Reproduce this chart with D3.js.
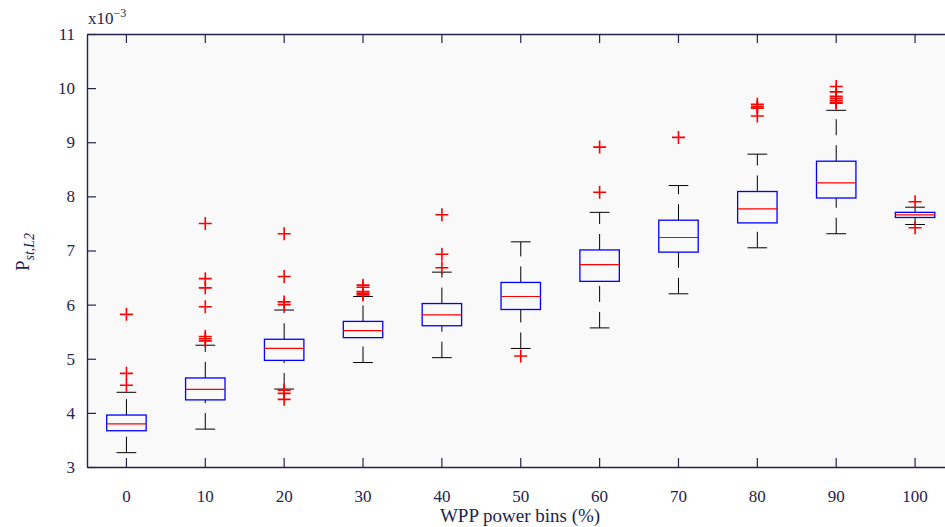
<!DOCTYPE html>
<html>
<head>
<meta charset="utf-8">
<script src="https://cdn.jsdelivr.net/npm/d3@7"></script>
<style>
  html, body { margin: 0; padding: 0; background: #ffffff; }
  svg { display: block; font-family: "Liberation Serif", "DejaVu Serif", serif; }
</style>
</head>
<body>
<svg id="chart" width="945" height="527"></svg>
<script>
// WPP power bins (%)
const bins = [0, 10, 20, 30, 40, 50, 60, 70, 80, 90, 100];

// Box statistics of P_st,L2 per bin (units of 1e-3)
const whiskerLow  = [3.265, 3.70, 4.44, 4.93, 5.02, 5.19, 5.57, 6.20, 7.05, 7.31, 7.48];
const quartile1   = [3.67, 4.24, 4.97, 5.39, 5.61, 5.91, 6.43, 6.97, 7.51, 7.97, 7.61];
const medians     = [3.795, 4.435, 5.19, 5.52, 5.81, 6.15, 6.74, 7.24, 7.77, 8.25, 7.66];
const quartile3   = [3.96, 4.645, 5.36, 5.69, 6.02, 6.41, 7.01, 7.56, 8.09, 8.65, 7.705];
const whiskerHigh = [4.38, 5.25, 5.90, 6.15, 6.60, 7.16, 7.705, 8.20, 8.78, 9.59, 7.80];

// Outlying samples per bin
const outliers = [
  [5.82, 4.73, 4.51],
  [7.50, 6.48, 6.31, 5.96, 5.41, 5.37, 5.33],
  [7.31, 6.52, 6.05, 6.00, 4.42, 4.36, 4.25],
  [6.36, 6.32, 6.24, 6.21, 6.18],
  [7.66, 6.93, 6.68],
  [5.05],
  [8.91, 8.075],
  [9.09],
  [9.70, 9.66, 9.63, 9.485],
  [10.03, 9.93, 9.85, 9.81, 9.77, 9.74, 9.72],
  [7.90, 7.42]
];

const yTicks = [3, 4, 5, 6, 7, 8, 9, 10, 11];

const axisColor = "#23234f";
const svg = d3.select("#chart");

const plot = { left: 87, top: 34, right: 954.5, bottom: 467 };

const x = d3.scaleBand()
  .domain(bins)
  .range([plot.left, plot.right])
  .paddingInner(0)
  .paddingOuter(0);

const y = d3.scaleLinear()
  .domain([3, 11])
  .range([plot.bottom, plot.top]);

const bw = x.bandwidth();
const cx = d => x(d) + bw / 2;

// plot background
svg.append("rect")
  .attr("x", plot.left).attr("y", plot.top)
  .attr("width", plot.right - plot.left)
  .attr("height", plot.bottom - plot.top)
  .attr("fill", "#f9f9f9");

const rows = bins.map((b, i) => ({
  bin: b,
  lo: whiskerLow[i], q1: quartile1[i], med: medians[i],
  q3: quartile3[i], hi: whiskerHigh[i], out: outliers[i]
}));

const g = svg.append("g");
const groups = g.selectAll("g.box").data(rows).join("g").attr("class", "box");

// whiskers (dashed, drawn from the lower end upward)
groups.append("line")
  .attr("x1", d => cx(d.bin)).attr("x2", d => cx(d.bin))
  .attr("y1", d => y(d.lo)).attr("y2", d => y(d.q1))
  .attr("stroke", "#000").attr("stroke-width", 1)
  .attr("stroke-dasharray", "16,10");
groups.append("line")
  .attr("x1", d => cx(d.bin)).attr("x2", d => cx(d.bin))
  .attr("y1", d => y(d.q3)).attr("y2", d => y(d.hi))
  .attr("stroke", "#000").attr("stroke-width", 1)
  .attr("stroke-dasharray", "16,10");

// whisker caps
const capHalf = bw * 0.125;
["lo", "hi"].forEach(k => {
  groups.append("line")
    .attr("x1", d => cx(d.bin) - capHalf).attr("x2", d => cx(d.bin) + capHalf)
    .attr("y1", d => y(d[k])).attr("y2", d => y(d[k]))
    .attr("stroke", "#000").attr("stroke-width", 1);
});

// boxes
const boxHalf = bw * 0.25;
groups.append("rect")
  .attr("x", d => cx(d.bin) - boxHalf)
  .attr("y", d => y(d.q3))
  .attr("width", boxHalf * 2)
  .attr("height", d => y(d.q1) - y(d.q3))
  .attr("fill", "none")
  .attr("stroke", "#0000ff").attr("stroke-width", 1.3);

// medians
groups.append("line")
  .attr("x1", d => cx(d.bin) - boxHalf).attr("x2", d => cx(d.bin) + boxHalf)
  .attr("y1", d => y(d.med)).attr("y2", d => y(d.med))
  .attr("stroke", "#ff0000").attr("stroke-width", 1.2);

// outliers as '+' markers
const m = 6.5;
groups.selectAll("path.out")
  .data(d => d.out.map(v => ({ bin: d.bin, v })))
  .join("path")
  .attr("class", "out")
  .attr("transform", d => `translate(${cx(d.bin)},${y(d.v)})`)
  .attr("d", `M${-m},0H${m}M0,${-m}V${m}`)
  .attr("stroke", "#ff0000").attr("stroke-width", 1.6)
  .attr("fill", "none");

// axes
const tickFont = 17;
const xAxis = d3.axisBottom(x).tickSizeInner(-9).tickSizeOuter(0).tickPadding(23);
const xAxisTop = d3.axisTop(x).tickSizeInner(-9).tickSizeOuter(0).tickFormat("");
const yAxis = d3.axisLeft(y).tickValues(yTicks).tickSizeInner(-9).tickSizeOuter(0).tickPadding(12)
  .tickFormat(d3.format("d"));

function styleAxis(sel) {
  sel.selectAll("path.domain").attr("stroke", axisColor).attr("stroke-width", 1.4);
  sel.selectAll(".tick line").attr("stroke", axisColor).attr("stroke-width", 1.2);
  sel.selectAll(".tick text").attr("fill", axisColor)
    .style("font-size", tickFont + "px")
    .style("font-family", "'Liberation Serif', serif");
}

svg.append("g").attr("transform", `translate(0,${plot.bottom})`).call(xAxis).call(styleAxis);
svg.append("g").attr("transform", `translate(0,${plot.top})`).call(xAxisTop).call(styleAxis);
svg.append("g").attr("transform", `translate(${plot.left},0)`).call(yAxis).call(styleAxis);

// scale factor note
const sf = svg.append("text")
  .attr("x", 88).attr("y", 24)
  .attr("fill", axisColor)
  .style("font-size", "17px");
sf.append("tspan").text("x10");
sf.append("tspan").attr("dy", -7).style("font-size", "12px").text("\u22123");

// x axis title
svg.append("text")
  .attr("x", (plot.left + 945) / 2 + 4).attr("y", 522)
  .attr("text-anchor", "middle")
  .attr("fill", axisColor)
  .style("font-size", "19px")
  .text("WPP power bins (%)");

// y axis title
const yl = svg.append("text")
  .attr("transform", "translate(29,252) rotate(-90)")
  .attr("text-anchor", "middle")
  .attr("fill", axisColor)
  .style("font-size", "19px");
yl.append("tspan").text("P");
yl.append("tspan").attr("dy", 5).style("font-size", "14px").style("font-style", "italic").text("st,L2");
</script>
</body>
</html>
